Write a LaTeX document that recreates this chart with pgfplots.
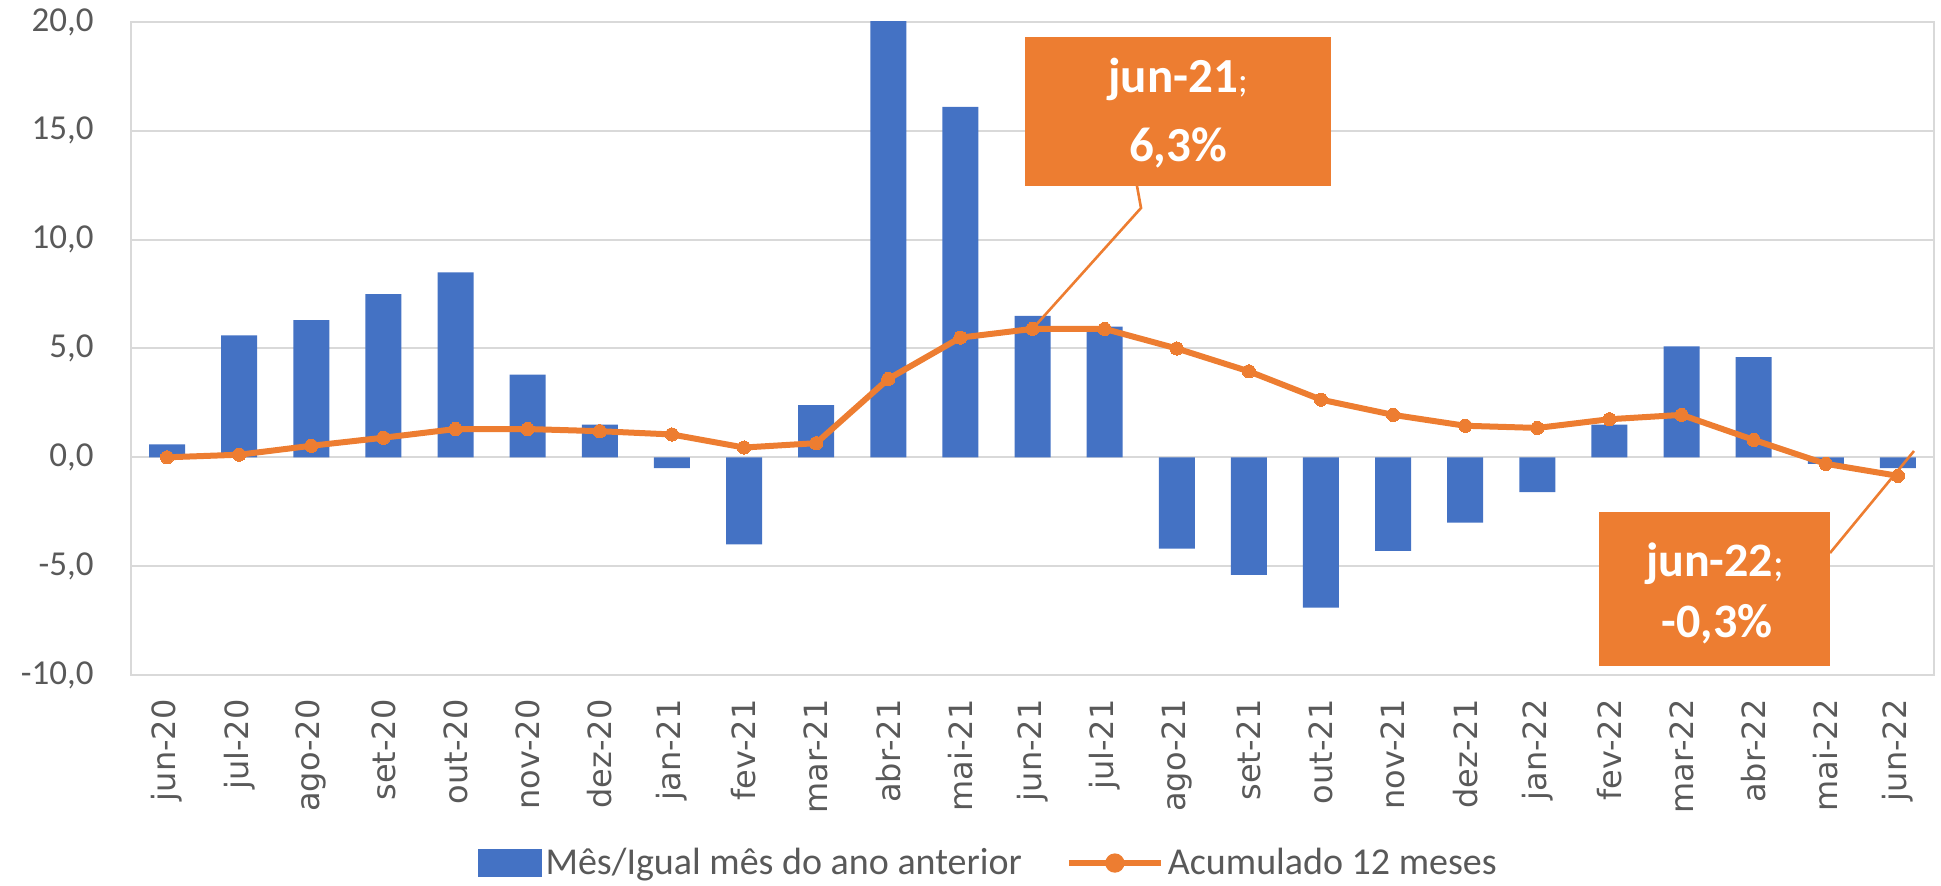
\documentclass[border=0pt]{standalone}
\usepackage{fontspec}
\setmainfont{Carlito}
\newfontfamily\dejavu{DejaVu Sans}
\usepackage{pgfplots}
\usepackage{pgfplotstable}
\pgfplotsset{compat=1.18}

\definecolor{barblue}{HTML}{4472C4}
\definecolor{lineorange}{HTML}{ED7D31}
\definecolor{gridgray}{HTML}{D9D9D9}
\definecolor{txtgray}{HTML}{595959}

% idx: month (jun-20 ... jun-22); mes: month vs same month of previous year; acum: 12-month accumulated
\pgfplotstableread{
idx mes acum
0 0.6 0.0
1 5.6 0.12
2 6.3 0.53
3 7.5 0.9
4 8.5 1.3
5 3.8 1.3
6 1.5 1.2
7 -0.5 1.05
8 -4.0 0.45
9 2.4 0.65
10 24.0 3.6
11 16.1 5.5
12 6.5 5.9
13 6.0 5.9
14 -4.2 5.0
15 -5.4 3.95
16 -6.9 2.65
17 -4.3 1.95
18 -3.0 1.45
19 -1.6 1.35
20 1.5 1.75
21 5.1 1.95
22 4.6 0.8
23 -0.3 -0.3
24 -0.5 -0.85
}\dados

\pgfplotsset{
  barlegend/.style={legend image code/.code={\fill[barblue] (0pt,-7pt) rectangle (32pt,7pt);}},
  linelegend/.style={legend image code/.code={%
    \draw[lineorange, line width=3pt] (0pt,0pt) -- (46pt,0pt);
    \fill[lineorange] (23pt,0pt) circle (3.3pt);}},
}

\begin{document}
\begin{tikzpicture}
\path[use as bounding box] (0,0) rectangle (970.5pt,443pt);
\begin{axis}[
  at={(65.5pt,105.5pt)}, anchor=south west,
  width=901.5pt, height=326.5pt, scale only axis,
  xmin=-0.5, xmax=24.5, ymin=-10, ymax=20,
  xtick={0,...,24},
  xticklabels={jun-20,jul-20,ago-20,set-20,out-20,nov-20,dez-20,jan-21,fev-21,mar-21,abr-21,mai-21,jun-21,jul-21,ago-21,set-21,out-21,nov-21,dez-21,jan-22,fev-22,mar-22,abr-22,mai-22,jun-22},
  ytick={-10,-5,0,5,10,15,20},
  yticklabels={{-10,0},{-5,0},{0,0},{5,0},{10,0},{15,0},{20,0}},
  ymajorgrids,
  grid style={gridgray, line width=1pt},
  axis line style={gridgray, line width=1pt},
  major tick length=0pt,
  tick style={draw=none},
  yticklabel style={font=\fontsize{17.5}{17.5}\selectfont\color{txtgray}, anchor=east, inner sep=0pt},
  yticklabel shift=18.5pt,
  xticklabel style={font=\dejavu\fontsize{16}{16}\selectfont\color{txtgray}, rotate=90, anchor=east, inner sep=0pt},
  xticklabel shift=12pt,
  legend columns=2,
  legend style={at={(0.192,-0.288)}, anchor=west, draw=none, fill=none, inner sep=0pt,
    font=\fontsize{19}{19}\selectfont\color{txtgray},
    nodes={inner sep=2pt},
    /tikz/every even column/.append style={column sep=20pt}},
  legend cell align=left,
]
\addplot[ybar, bar width=18pt, fill=barblue, draw=none, barlegend]
  table[x=idx, y=mes]{\dados};
\addlegendentry{Mês/Igual mês do ano anterior}
\addplot[lineorange, line width=3pt, mark=*, mark size=3.3pt,
  mark options={fill=lineorange, draw=lineorange, line width=0pt}, linelegend]
  table[x=idx, y=acum]{\dados};
\addlegendentry{Acumulado 12 meses}
\coordinate (p21) at (axis cs:12,5.9);
\coordinate (p22) at (axis cs:24,-0.85);
\end{axis}
\begin{scope}[x=0.5pt, y=-0.5pt, shift={(0pt,443pt)}]
  % callout jun-21
  \draw[lineorange, line width=1.3pt] (1137,186) -- (1141,208) -- (p21);
  \fill[lineorange] (1025,37) rectangle (1331,186);
  \node[anchor=base, text=white, font=\fontsize{24.5}{24.5}\selectfont\bfseries, inner sep=0pt]
    at (1178,93) {jun-21{\mdseries\fontsize{18}{18}\selectfont;}};
  \node[anchor=base, text=white, font=\fontsize{24.5}{24.5}\selectfont\bfseries, inner sep=0pt]
    at (1178,162) {6,3\%};
  % callout jun-22
  \draw[lineorange, line width=1.3pt] (1830,553) -- (1914,451);
  \fill[lineorange] (1599,512) rectangle (1830,666);
  \node[anchor=base, text=white, font=\fontsize{24}{24}\selectfont\bfseries, inner sep=0pt]
    at (1715,577) {jun-22{\mdseries\fontsize{20}{20}\selectfont;}};
  \node[anchor=base, text=white, font=\fontsize{24}{24}\selectfont\bfseries, inner sep=0pt]
    at (1717,638) {-0,3\%};
\end{scope}
\end{tikzpicture}
\end{document}
